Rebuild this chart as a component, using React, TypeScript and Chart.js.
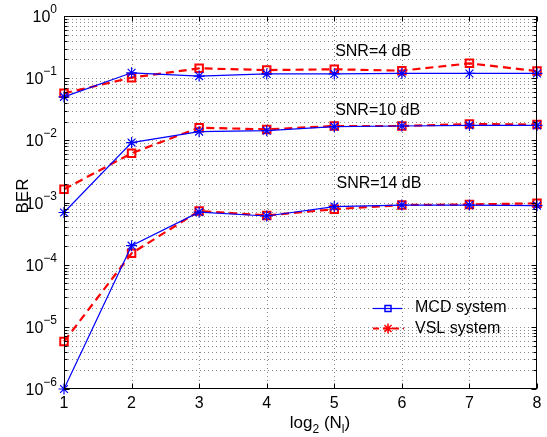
import React, { useEffect, useRef } from 'react';
import { Chart, registerables } from 'chart.js';

Chart.register(...registerables);

// ---- data ----
const xValues = [1, 2, 3, 4, 5, 6, 7, 8];
const mcdSnr4 = [0.050, 0.122, 0.108, 0.117, 0.117, 0.119, 0.119, 0.119];
const vslSnr4 = [0.057, 0.102, 0.144, 0.135, 0.139, 0.132, 0.173, 0.130];
const mcdSnr10 = [0.00069, 0.0092, 0.0138, 0.0143, 0.0166, 0.017, 0.0174, 0.0174];
const vslSnr10 = [0.00163, 0.0062, 0.016, 0.015, 0.017, 0.017, 0.0183, 0.0179];
const mcdSnr14 = [1e-6, 2.02e-4, 7.0e-4, 6.07e-4, 8.6e-4, 9.1e-4, 9.1e-4, 8.9e-4];
const vslSnr14 = [5.8e-6, 1.52e-4, 7.3e-4, 6.2e-4, 7.8e-4, 9.1e-4, 9.3e-4, 9.7e-4];

const xTickValues = [1, 2, 3, 4, 5, 6, 7, 8];
const yDecadeExponents = [-6, -5, -4, -3, -2, -1, 0];
const yMinorMultipliers = [2, 3, 4, 5, 6, 7, 8, 9];

const snrLabels = ['SNR=4 dB', 'SNR=10 dB', 'SNR=14 dB'];
const snrLabelAnchors = [
  { x: 3.0, y: 0.227 },
  { x: 3.0, y: 0.0256 },
  { x: 3.02, y: 0.00168 },
];
const legendLabels = ['MCD system', 'VSL system'];
const yAxisTitle = 'BER';

const BLUE = '#0000ff';
const RED = '#ff0000';
const FONT = '"Liberation Sans", Arial, Helvetica, sans-serif';

const toPoints = (arr: number[]) => xValues.map((x, i) => ({ x, y: arr[i] }));

const blueStyle = {
  borderColor: BLUE,
  backgroundColor: 'transparent',
  borderWidth: 1.2,
  pointStyle: 'star',
  pointRadius: 5.5,
  pointBorderColor: BLUE,
  pointBackgroundColor: 'transparent',
  pointBorderWidth: 1.2,
  fill: false,
  tension: 0,
  clip: false,
};
const redStyle = {
  borderColor: RED,
  backgroundColor: 'transparent',
  borderWidth: 2.2,
  borderDash: [8, 5],
  pointStyle: 'rect',
  pointRadius: 5.3,
  pointBorderColor: RED,
  pointBackgroundColor: 'transparent',
  pointBorderWidth: 2,
  fill: false,
  tension: 0,
  clip: false,
};

const matlabPlugin = {
  id: 'matlabLook',
  beforeDatasetsDraw(chart: any) {
    const { ctx, chartArea: a, scales } = chart;
    const xs = scales.x;
    const ys = scales.y;
    ctx.save();
    ctx.strokeStyle = '#8a8a8a';
    ctx.lineWidth = 1;
    ctx.setLineDash([1, 3]);
    xTickValues.forEach((v) => {
      const px = Math.round(xs.getPixelForValue(v)) + 0.5;
      if (px <= a.left + 1 || px >= a.right - 1) return;
      ctx.beginPath();
      ctx.moveTo(px, a.top);
      ctx.lineTo(px, a.bottom);
      ctx.stroke();
    });
    yDecadeExponents.forEach((e) => {
      const vals = [Math.pow(10, e), ...yMinorMultipliers.map((m) => m * Math.pow(10, e))];
      vals.forEach((v) => {
        if (v > 1.0001) return;
        const py = Math.round(ys.getPixelForValue(v)) + 0.5;
        if (py <= a.top + 1 || py >= a.bottom - 1) return;
        ctx.beginPath();
        ctx.moveTo(a.left, py);
        ctx.lineTo(a.right, py);
        ctx.stroke();
      });
    });
    ctx.restore();
  },
  afterDatasetsDraw(chart: any) {
    const { ctx, chartArea: a, scales } = chart;
    const xs = scales.x;
    const ys = scales.y;
    ctx.save();
    ctx.setLineDash([]);
    ctx.strokeStyle = '#000';
    ctx.lineWidth = 1;
    const L = Math.round(a.left) + 0.5;
    const R = Math.round(a.right) - 0.5;
    const T = Math.round(a.top) + 0.5;
    const B = Math.round(a.bottom) - 0.5;
    ctx.strokeRect(L, T, R - L, B - T);
    xTickValues.forEach((v) => {
      const px = Math.round(xs.getPixelForValue(v)) + 0.5;
      ctx.beginPath();
      ctx.moveTo(px, B);
      ctx.lineTo(px, B - 5);
      ctx.moveTo(px, T);
      ctx.lineTo(px, T + 5);
      ctx.stroke();
    });
    yDecadeExponents.forEach((e) => {
      const major = Math.pow(10, e);
      const pyM = Math.round(ys.getPixelForValue(major)) + 0.5;
      ctx.beginPath();
      ctx.moveTo(L, pyM);
      ctx.lineTo(L + 5, pyM);
      ctx.moveTo(R, pyM);
      ctx.lineTo(R - 5, pyM);
      ctx.stroke();
      if (e < 0) {
        yMinorMultipliers.forEach((m) => {
          const py = Math.round(ys.getPixelForValue(m * major)) + 0.5;
          ctx.beginPath();
          ctx.moveTo(L, py);
          ctx.lineTo(L + 3, py);
          ctx.moveTo(R, py);
          ctx.lineTo(R - 3, py);
          ctx.stroke();
        });
      }
    });

    ctx.fillStyle = '#000';
    // x tick labels
    ctx.font = `16px ${FONT}`;
    ctx.textAlign = 'center';
    ctx.textBaseline = 'alphabetic';
    xTickValues.forEach((v) => {
      ctx.fillText(String(v), xs.getPixelForValue(v), a.bottom + 19);
    });
    // y tick labels 10^e
    yDecadeExponents.forEach((e) => {
      const py = ys.getPixelForValue(Math.pow(10, e));
      const expText = e === 0 ? '0' : '\u2212' + String(-e);
      ctx.font = `12px ${FONT}`;
      const ew = ctx.measureText(expText).width;
      ctx.font = `16px ${FONT}`;
      const bw = ctx.measureText('10').width;
      const right = a.left - 7;
      ctx.textAlign = 'left';
      ctx.fillText('10', right - ew - bw, py + 6);
      ctx.font = `12px ${FONT}`;
      ctx.fillText(expText, right - ew, py - 3);
    });

    // y axis title
    ctx.save();
    ctx.font = `17px ${FONT}`;
    ctx.textAlign = 'center';
    ctx.textBaseline = 'alphabetic';
    ctx.translate(28, 196);
    ctx.rotate(-Math.PI / 2);
    ctx.fillText(yAxisTitle, 0, 0);
    ctx.restore();

    // x axis title: log_2 (N_l)
    {
      const parts = [
        { t: 'log', size: 17, dy: 0 },
        { t: '2', size: 12, dy: 5 },
        { t: ' (N', size: 17, dy: 0 },
        { t: 'l', size: 12, dy: 5 },
        { t: ')', size: 17, dy: 0 },
      ];
      let total = 0;
      parts.forEach((p) => {
        ctx.font = `${p.size}px ${FONT}`;
        total += ctx.measureText(p.t).width;
      });
      let cx = 320 - total / 2;
      const base = a.bottom + 39;
      ctx.textAlign = 'left';
      parts.forEach((p) => {
        ctx.font = `${p.size}px ${FONT}`;
        ctx.fillText(p.t, cx, base + p.dy);
        cx += ctx.measureText(p.t).width;
      });
    }

    // SNR annotations
    ctx.font = `16px ${FONT}`;
    ctx.textAlign = 'left';
    snrLabels.forEach((s, i) => {
      const anc = snrLabelAnchors[i];
      ctx.fillText(s, xs.getPixelForValue(anc.x) + 136, ys.getPixelForValue(anc.y));
    });

    // legend
    const lx0 = 373;
    const lx1 = 402;
    const mx = 388;
    const rows = [308.5, 328.5];
    ctx.strokeStyle = BLUE;
    ctx.lineWidth = 1.2;
    ctx.beginPath();
    ctx.moveTo(lx0, rows[0]);
    ctx.lineTo(lx1, rows[0]);
    ctx.stroke();
    ctx.lineWidth = 1.5;
    ctx.strokeRect(mx - 3, rows[0] - 3, 6, 6);
    ctx.strokeStyle = RED;
    ctx.lineWidth = 2;
    ctx.setLineDash([6, 4]);
    ctx.beginPath();
    ctx.moveTo(lx0, rows[1]);
    ctx.lineTo(lx1 + 2, rows[1]);
    ctx.stroke();
    ctx.setLineDash([]);
    ctx.lineWidth = 1.5;
    const r = 5;
    ctx.beginPath();
    ctx.moveTo(mx - r, rows[1]);
    ctx.lineTo(mx + r, rows[1]);
    ctx.moveTo(mx, rows[1] - r);
    ctx.lineTo(mx, rows[1] + r);
    const d = r * Math.SQRT1_2;
    ctx.moveTo(mx - d, rows[1] - d);
    ctx.lineTo(mx + d, rows[1] + d);
    ctx.moveTo(mx - d, rows[1] + d);
    ctx.lineTo(mx + d, rows[1] - d);
    ctx.stroke();

    ctx.fillStyle = '#000';
    ctx.font = `16px ${FONT}`;
    ctx.textAlign = 'left';
    ctx.fillText(legendLabels[0], 415, 312);
    ctx.fillText(legendLabels[1], 415, 333);
    ctx.restore();
  },
};

export default function App() {
  const canvasRef = useRef<HTMLCanvasElement | null>(null);

  useEffect(() => {
    document.body.style.margin = '0';
    document.body.style.background = '#ffffff';
    const canvas = canvasRef.current;
    if (!canvas) return;
    const chart = new Chart(canvas, {
      type: 'line',
      data: {
        datasets: [
          { label: 'MCD SNR=4', data: toPoints(mcdSnr4), ...blueStyle },
          { label: 'MCD SNR=10', data: toPoints(mcdSnr10), ...blueStyle },
          { label: 'MCD SNR=14', data: toPoints(mcdSnr14), ...blueStyle },
          { label: 'VSL SNR=4', data: toPoints(vslSnr4), ...redStyle },
          { label: 'VSL SNR=10', data: toPoints(vslSnr10), ...redStyle },
          { label: 'VSL SNR=14', data: toPoints(vslSnr14), ...redStyle },
        ] as any,
      },
      options: {
        responsive: false,
        animation: false,
        devicePixelRatio: 1,
        layout: { padding: { left: 64, right: 10, top: 16, bottom: 48 } },
        plugins: {
          legend: { display: false },
          tooltip: { enabled: false },
        },
        scales: {
          x: { type: 'linear', min: 1, max: 8, display: false },
          y: { type: 'logarithmic', min: 1e-6, max: 1, display: false },
        },
      } as any,
      plugins: [matlabPlugin],
    });
    return () => chart.destroy();
  }, []);

  return (
    <div style={{ width: 547, height: 437, background: '#fff' }}>
      <canvas ref={canvasRef} width={547} height={437} />
    </div>
  );
}
